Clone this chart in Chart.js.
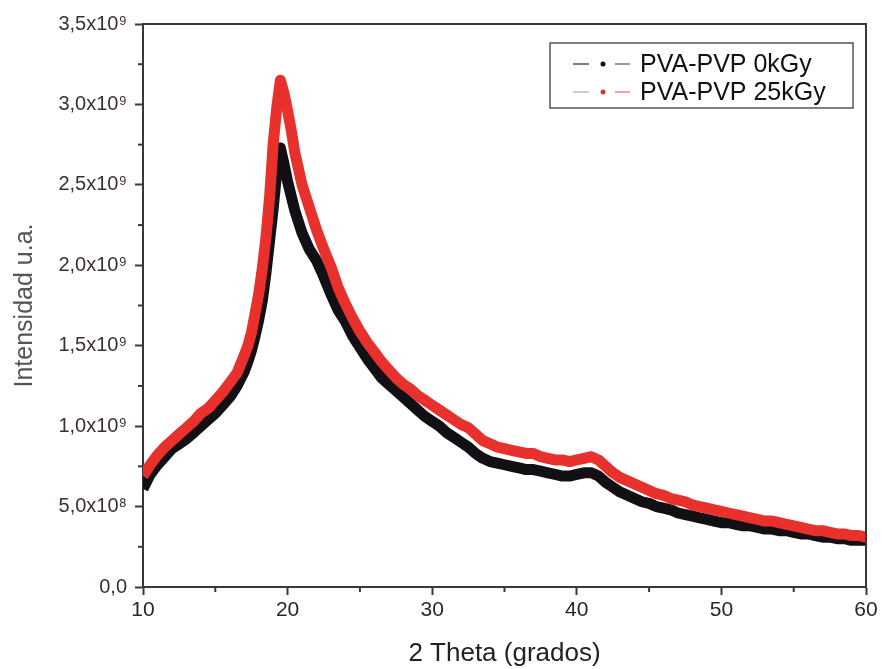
<!DOCTYPE html>
<html>
<head>
<meta charset="utf-8">
<script src="https://cdn.jsdelivr.net/npm/chart.js@4.4.1/dist/chart.umd.min.js"></script>
<style>
  html, body { margin: 0; padding: 0; background: #fff; }
  #wrap { width: 882px; height: 669px; position: relative; }
</style>
</head>
<body>
<div id="wrap"><canvas id="xrd"></canvas></div>
<script>
// 2 theta positions (grados), finer around the main peak
const twoTheta = [10, 10.5, 11, 11.5, 12, 12.5, 13, 13.5, 14, 14.5, 15, 15.5, 16, 16.5,
  17, 17.25, 17.5, 17.75, 18, 18.25, 18.5, 18.75, 19, 19.25, 19.5, 19.75, 20, 20.25, 20.5, 20.75, 21,
  21.5, 22, 22.5, 23, 23.5, 24, 24.5, 25, 25.5, 26, 26.5, 27, 27.5, 28, 28.5, 29, 29.5, 30,
  30.5, 31, 31.5, 32, 32.5, 33, 33.5, 34, 34.5, 35, 35.5, 36, 36.5, 37, 37.5, 38, 38.5, 39, 39.5, 40,
  40.5, 41, 41.5, 42, 42.5, 43, 43.5, 44, 44.5, 45, 45.5, 46, 46.5, 47, 47.5, 48, 48.5, 49, 49.5, 50,
  50.5, 51, 51.5, 52, 52.5, 53, 53.5, 54, 54.5, 55, 55.5, 56, 56.5, 57, 57.5, 58, 58.5, 59, 59.5, 60];

// intensities in units of 1e9 (u.a.)
const pvp0kGy = [0.61, 0.70, 0.76, 0.81, 0.86, 0.89, 0.92, 0.96, 1.00, 1.04, 1.08, 1.13, 1.18, 1.25,
  1.34, 1.40, 1.47, 1.56, 1.66, 1.78, 1.95, 2.15, 2.35, 2.58, 2.73, 2.63, 2.52, 2.43, 2.34, 2.27, 2.20,
  2.10, 2.03, 1.93, 1.82, 1.72, 1.65, 1.56, 1.49, 1.42, 1.36, 1.30, 1.26, 1.22, 1.18, 1.14, 1.10, 1.06, 1.03,
  1.00, 0.96, 0.93, 0.90, 0.87, 0.83, 0.80, 0.78, 0.77, 0.76, 0.75, 0.74, 0.73, 0.73, 0.72, 0.71, 0.70, 0.69, 0.69, 0.70,
  0.71, 0.71, 0.69, 0.65, 0.62, 0.59, 0.57, 0.55, 0.53, 0.52, 0.50, 0.49, 0.48, 0.46, 0.45, 0.44, 0.43, 0.42, 0.41, 0.40,
  0.40, 0.39, 0.38, 0.38, 0.37, 0.36, 0.36, 0.35, 0.35, 0.34, 0.33, 0.33, 0.32, 0.31, 0.31, 0.30, 0.30, 0.29, 0.29, 0.29];

const pvp25kGy = [0.69, 0.76, 0.82, 0.87, 0.91, 0.95, 0.99, 1.03, 1.08, 1.11, 1.16, 1.21, 1.27, 1.33,
  1.44, 1.50, 1.58, 1.70, 1.82, 1.98, 2.17, 2.42, 2.75, 2.98, 3.15, 3.07, 2.96, 2.84, 2.70, 2.60, 2.50,
  2.36, 2.22, 2.10, 1.99, 1.86, 1.76, 1.67, 1.59, 1.52, 1.46, 1.40, 1.35, 1.30, 1.26, 1.23, 1.19, 1.16, 1.13,
  1.10, 1.07, 1.04, 1.01, 0.99, 0.95, 0.91, 0.89, 0.87, 0.86, 0.85, 0.84, 0.83, 0.83, 0.81, 0.80, 0.79, 0.79, 0.78, 0.79,
  0.80, 0.81, 0.79, 0.75, 0.71, 0.68, 0.66, 0.64, 0.62, 0.60, 0.58, 0.57, 0.55, 0.54, 0.53, 0.51, 0.50, 0.49, 0.48, 0.47,
  0.46, 0.45, 0.44, 0.43, 0.42, 0.41, 0.41, 0.40, 0.39, 0.38, 0.37, 0.36, 0.35, 0.35, 0.34, 0.33, 0.33, 0.32, 0.32, 0.31];

const seriesNames = ['PVA-PVP 0kGy', 'PVA-PVP 25kGy'];
const yTickValues = [0, 0.5, 1, 1.5, 2, 2.5, 3, 3.5];
const yTickLabels = ['0,0', '5,0x10\u2078', '1,0x10\u2079', '1,5x10\u2079', '2,0x10\u2079', '2,5x10\u2079', '3,0x10\u2079', '3,5x10\u2079'];
const xTickValues = [10, 20, 30, 40, 50, 60];

const axisColor = '#3a3540';
const fontFamily = '"Liberation Sans", Arial, sans-serif';

function isMajor(list, v) {
  return list.some(m => Math.abs(m - v) < 1e-6);
}

// frame, minor ticks and the boxed legend
const framePlugin = {
  id: 'frame',
  afterDraw(chart) {
    const ctx = chart.ctx;
    const a = chart.chartArea;
    const xs = chart.scales.x, ys = chart.scales.y;
    ctx.save();
    ctx.strokeStyle = axisColor;
    ctx.lineWidth = 2;
    ctx.beginPath();
    ctx.moveTo(a.left, a.top);
    ctx.lineTo(a.right, a.top);
    ctx.lineTo(a.right, a.bottom);
    ctx.stroke();

    // minor ticks
    xs.ticks.forEach(t => {
      if (isMajor(xTickValues, t.value)) return;
      const px = xs.getPixelForValue(t.value);
      ctx.beginPath();
      ctx.moveTo(px, a.bottom);
      ctx.lineTo(px, a.bottom + 5);
      ctx.stroke();
    });
    ys.ticks.forEach(t => {
      if (isMajor(yTickValues, t.value)) return;
      const py = ys.getPixelForValue(t.value);
      ctx.beginPath();
      ctx.moveTo(a.left, py);
      ctx.lineTo(a.left - 5, py);
      ctx.stroke();
    });

    // legend box
    const bx = a.right - 316, by = a.top + 19, bw = 303, bh = 65;
    ctx.lineWidth = 1.5;
    ctx.strokeStyle = '#555';
    ctx.strokeRect(bx, by, bw, bh);
    const rows = [
      { seg1: '#555', dot: '#111', seg2: '#777' },
      { seg1: '#bbb', dot: '#d33a35', seg2: '#dd8a88' }
    ];
    ctx.font = '25px ' + fontFamily;
    ctx.textBaseline = 'middle';
    rows.forEach((r, i) => {
      const cy = by + 21 + i * 28;
      ctx.lineWidth = 1.5;
      ctx.strokeStyle = r.seg1;
      ctx.beginPath(); ctx.moveTo(bx + 23, cy); ctx.lineTo(bx + 39, cy); ctx.stroke();
      ctx.strokeStyle = r.seg2;
      ctx.beginPath(); ctx.moveTo(bx + 65, cy); ctx.lineTo(bx + 80, cy); ctx.stroke();
      ctx.fillStyle = r.dot;
      ctx.beginPath(); ctx.arc(bx + 53, cy, 2.5, 0, Math.PI * 2); ctx.fill();
      ctx.fillStyle = '#111';
      ctx.fillText(seriesNames[i], bx + 90, cy + 1);
    });
    ctx.restore();
  }
};

const ctx = document.getElementById('xrd').getContext('2d');
const xrdChart = new Chart(ctx, {
  type: 'line',
  data: {
    datasets: [{
      label: seriesNames[0],
      data: twoTheta.map((t, i) => ({ x: t, y: pvp0kGy[i] })),
      borderColor: '#121014',
      borderWidth: 11,
      borderJoinStyle: 'round',
      pointRadius: 0,
      tension: 0,
      order: 2,
    }, {
      label: seriesNames[1],
      data: twoTheta.map((t, i) => ({ x: t, y: pvp25kGy[i] })),
      borderColor: '#e8312c',
      borderWidth: 11,
      borderJoinStyle: 'round',
      pointRadius: 0,
      tension: 0,
      order: 1,
    }],
  },
  options: {
    responsive: true,
    maintainAspectRatio: false,
    animation: false,
    layout: { padding: { left: 10, top: 24, right: 16, bottom: 0 } },
    plugins: {
      legend: { display: false },
      tooltip: { enabled: false },
    },
    scales: {
      x: {
        type: 'linear',
        min: 10,
        max: 60,
        afterFit: (s) => { s.height = 82; },
        ticks: {
          stepSize: 5,
          autoSkip: false,
          maxRotation: 0,
          padding: 3,
          color: '#2a2530',
          font: { family: fontFamily, size: 21 },
          callback: (v) => isMajor(xTickValues, v) ? String(v) : '',
        },
        grid: {
          drawOnChartArea: false,
          tickLength: 8,
          tickWidth: 2,
          tickColor: (c) => (c.tick && isMajor(xTickValues, c.tick.value)) ? axisColor : 'rgba(0,0,0,0)',
        },
        border: { color: axisColor, width: 2 },
        title: {
          display: true,
          text: '2 Theta (grados)',
          color: '#222',
          font: { family: fontFamily, size: 26 },
          padding: { top: 0, bottom: 0 },
        },
      },
      y: {
        min: 0,
        max: 3.5,
        afterFit: (s) => { s.width = 133; },
        ticks: {
          stepSize: 0.25,
          autoSkip: false,
          padding: 8,
          color: '#3a2e39',
          font: { family: fontFamily, size: 20 },
          callback: (v) => {
            const k = yTickValues.findIndex(m => Math.abs(m - v) < 1e-6);
            return k >= 0 ? yTickLabels[k] : '';
          },
        },
        grid: {
          drawOnChartArea: false,
          tickLength: 8,
          tickWidth: 2,
          tickColor: (c) => (c.tick && isMajor(yTickValues, c.tick.value)) ? axisColor : 'rgba(0,0,0,0)',
        },
        border: { color: axisColor, width: 2 },
        title: {
          display: true,
          text: 'Intensidad u.a.',
          color: '#555',
          font: { family: fontFamily, size: 25 },
          padding: { top: 0, bottom: 0 },
        },
      },
    },
  },
  plugins: [framePlugin],
});
</script>
</body>
</html>
